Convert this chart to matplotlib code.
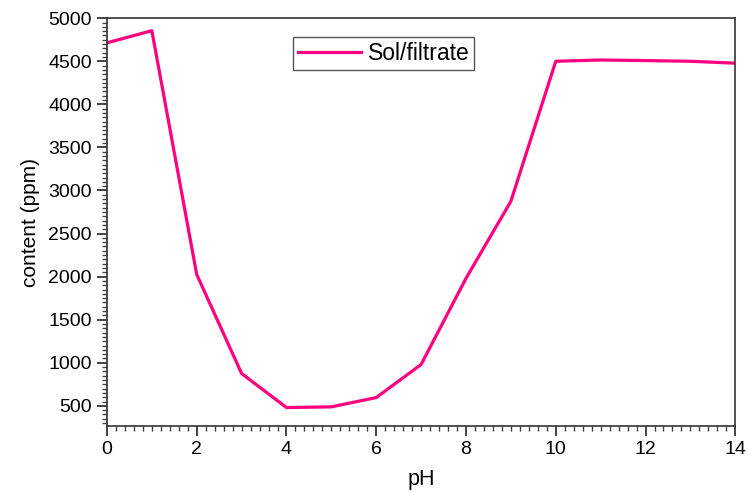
import numpy as np
import matplotlib
matplotlib.use("Agg")
import matplotlib.pyplot as plt
from matplotlib.ticker import MultipleLocator

plt.rcParams['font.family'] = ['Liberation Sans', 'DejaVu Sans']

# pH vs content data
ph = [0, 1, 2, 3, 4, 5, 6, 7, 8, 9, 10, 11, 12, 13, 14]
content = [4714, 4855, 2025, 875, 480, 488, 596, 980, 1980, 2875, 4500, 4515, 4508, 4500, 4478]

fig = plt.figure(figsize=(7.48, 4.92), dpi=100)
ax = fig.add_axes([0.143, 0.134, 0.840, 0.829])

ax.plot(ph, content, color='#ff007f', lw=2.3, label='Sol/filtrate')

ax.set_xlim(0, 14)
ax.set_ylim(265, 5000)
ax.xaxis.set_major_locator(MultipleLocator(2))
ax.xaxis.set_minor_locator(MultipleLocator(0.2))
ax.yaxis.set_major_locator(MultipleLocator(500))
ax.yaxis.set_minor_locator(MultipleLocator(50))
ax.set_yticks(np.arange(500, 5001, 500))

ax.tick_params(which='major', direction='out', length=7, width=1.2, labelsize=14,
               colors='#222222', labelcolor='black', pad=4)
ax.tick_params(which='minor', direction='out', length=3.5, width=1.0, colors='#444444')
for s in ax.spines.values():
    s.set_linewidth(1.2)
    s.set_color('#333333')

ax.set_xlabel('pH', fontsize=15.5, labelpad=8)
ax.set_ylabel('content (ppm)', fontsize=15, labelpad=6)

leg = ax.legend(loc='upper center', bbox_to_anchor=(0.44, 0.953), borderaxespad=0,
                fontsize=16.5, fancybox=False, framealpha=1, edgecolor='#555555',
                handlelength=2.75, handletextpad=0.3, borderpad=0.22)
leg.get_frame().set_linewidth(1.0)

fig.savefig('out.png', dpi=100)
